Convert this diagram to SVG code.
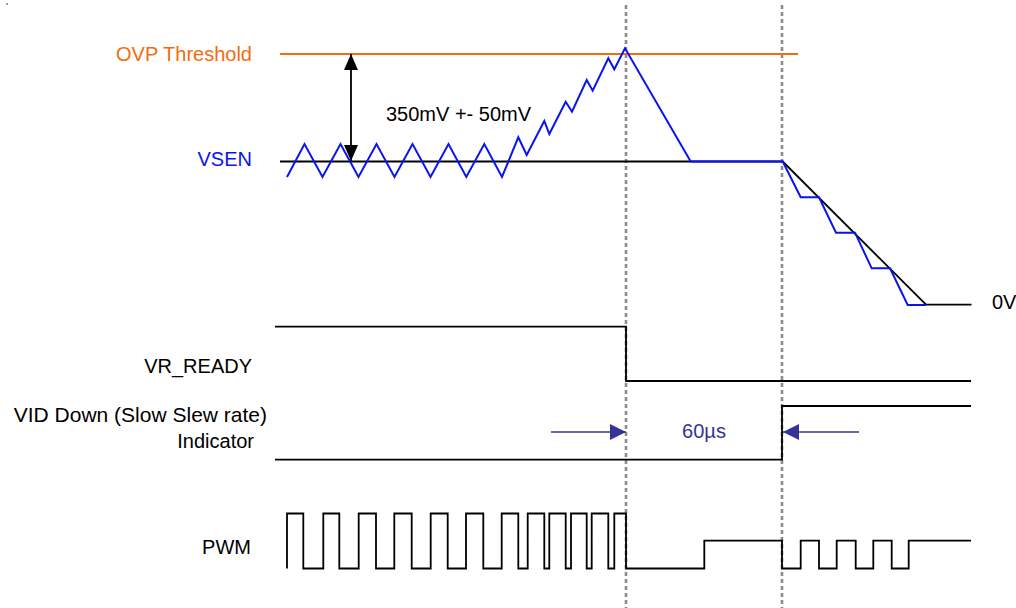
<svg xmlns="http://www.w3.org/2000/svg" width="1016" height="608" viewBox="0 0 1016 608">
<style>
text{font-family:"Liberation Sans",Arial,sans-serif;font-size:20px;fill:#000}
.sig{fill:none;stroke:#000;stroke-width:1.8;stroke-linejoin:miter}
.blue{fill:none;stroke:#0a14f0;stroke-width:2;stroke-linejoin:miter}
.dash{stroke:#8c8c8c;stroke-width:2.6;stroke-dasharray:4 3;fill:none}
.nav{stroke:#333399;stroke-width:1.6;fill:none}
</style>
<defs>
<marker id="ah" viewBox="0 0 14 16" refX="16" refY="7" markerWidth="14" markerHeight="16" markerUnits="userSpaceOnUse" orient="auto-start-reverse">
<path d="M0,0 L16,7 L0,14 Z" fill="#000"/>
</marker>
<marker id="nh" viewBox="0 0 16 16" refX="16" refY="8" markerWidth="16" markerHeight="16" markerUnits="userSpaceOnUse" orient="auto">
<path d="M0,0 L16,8 L0,16 Z" fill="#333399"/>
</marker>
</defs>
<rect x="6" y="3.5" width="2" height="1" fill="#444"/>
<g id="guides">
<line class="dash" x1="626" y1="5" x2="626" y2="608"/>
<line class="dash" x1="782" y1="5" x2="782" y2="608"/>
</g>
<g id="ovp">
<line x1="280" y1="54" x2="798" y2="54" stroke="#f26c12" stroke-width="2"/>
<text x="252" y="61" text-anchor="end" style="fill:#f26c12">OVP Threshold</text>
</g>
<g id="vsen">
<polyline class="sig" points="280,161.5 782.7,161.5 926,304.7 971.5,304.7"/>
<polyline class="blue" points="287,177 304.5,144 322.5,177 340.5,144 358.5,177 376.5,144 394.5,177 412.5,144 430.5,177 448.5,144 466.3,177 484.3,144 502,177 518.3,137.3 526.7,155 544.3,121 549.3,134 565.7,101.7 572,111.7 586.7,80 592.7,90.7 608.3,58.3 614.3,69.3 625,48.3 690.7,161.5 782.7,161.5 800.7,197.3 819,197.3 836,232.7 855,232.7 871.7,268.3 890,268.3 907.7,305 926,305"/>
<text x="252" y="166" text-anchor="end" style="fill:#0a14f0">VSEN</text>
<text x="992" y="309">0V</text>
</g>
<g id="vr_ready">
<polyline class="sig" points="275,326.7 626,326.7 626,381 971,381"/>
<text x="252" y="373" text-anchor="end">VR_READY</text>
</g>
<g id="vid_down">
<polyline class="sig" points="275,459.7 782,459.7 782,406 971,406"/>
<text x="267" y="422" text-anchor="end" style="font-size:21px">VID Down (Slow Slew rate)</text>
<text x="254" y="448" text-anchor="end">Indicator</text>
</g>
<g id="pwm">
<polyline class="sig" points="287,568.5 287,513.5 303.3,513.5 303.3,568.5 323.3,568.5 323.3,513.5 339.3,513.5 339.3,568.5 358.7,568.5 358.7,513.5 376,513.5 376,568.5 394.3,568.5 394.3,513.5 411.7,513.5 411.7,568.5 430.7,568.5 430.7,513.5 447.7,513.5 447.7,568.5 466,568.5 466,513.5 483.3,513.5 483.3,568.5 501.7,568.5 501.7,513.5 518.3,513.5 518.3,568.5 527.7,568.5 527.7,513.5 544.3,513.5 544.3,568.5 549.3,568.5 549.3,513.5 565.7,513.5 565.7,568.5 571,568.5 571,513.5 586.7,513.5 586.7,568.5 591.7,568.5 591.7,513.5 608.3,513.5 608.3,568.5 614.3,568.5 614.3,513.5 626,513.5 626,568.5 704.3,568.5 704.3,540.7 782,540.7 782,568.5 800.7,568.5 800.7,540.7 819,540.7 819,568.5 836.7,568.5 836.7,540.7 855.7,540.7 855.7,568.5 873.3,568.5 873.3,540.7 891.7,540.7 891.7,568.5 908.7,568.5 908.7,540.7 971,540.7"/>
<text x="251" y="554" text-anchor="end">PWM</text>
</g>
<g id="connectors">
<line x1="351" y1="54" x2="351" y2="161" stroke="#000" stroke-width="1.8" marker-start="url(#ah)" marker-end="url(#ah)"/>
<text x="386" y="121">350mV +- 50mV</text>
<line class="nav" x1="551" y1="432" x2="626" y2="432" marker-end="url(#nh)"/>
<line class="nav" x1="859" y1="432" x2="783" y2="432" marker-end="url(#nh)"/>
<text x="704" y="438" text-anchor="middle" style="fill:#333399">60µs</text>
</g>
</svg>
